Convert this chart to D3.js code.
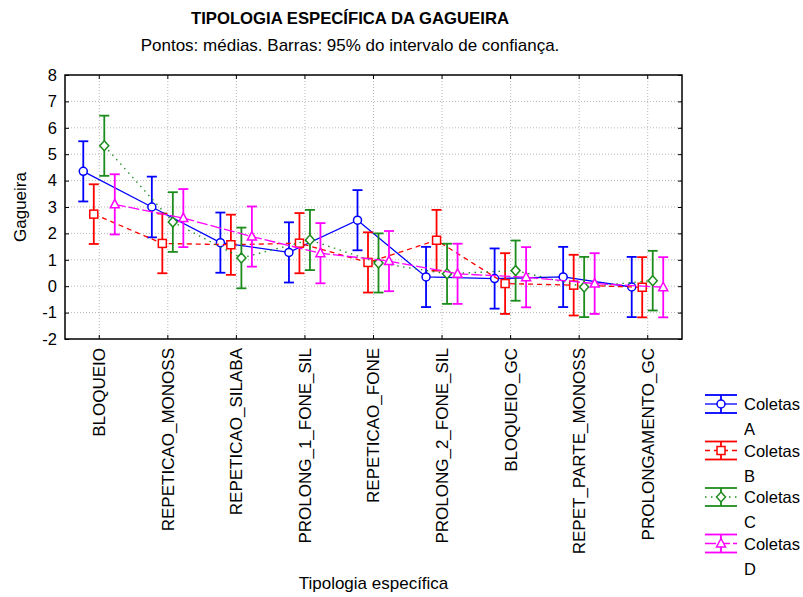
<!DOCTYPE html>
<html><head><meta charset="utf-8">
<script src="https://cdn.jsdelivr.net/npm/d3@7"></script>
<style>body{margin:0;background:#fff}text{font-family:"Liberation Sans",Arial,sans-serif;fill:#000}</style>
</head><body><svg id="c" width="803" height="597"></svg>
<script>
const categories = ["BLOQUEIO","REPETICAO_MONOSS","REPETICAO_SILABA","PROLONG_1_FONE_SIL","REPETICAO_FONE","PROLONG_2_FONE_SIL","BLOQUEIO_GC","REPET_PARTE_MONOSS","PROLONGAMENTO_GC"];
const seriesNames = ["Coletas A","Coletas B","Coletas C","Coletas D"];
const meansA = [4.35, 3.00, 1.65, 1.28, 2.50, 0.35, 0.29, 0.35, -0.03];
const ciA    = [1.14, 1.15, 1.14, 1.14, 1.14, 1.14, 1.14, 1.14, 1.14];
const meansB = [2.73, 1.62, 1.57, 1.63, 0.90, 1.74, 0.10, 0.04, -0.04];
const ciB    = [1.13, 1.13, 1.14, 1.14, 1.14, 1.15, 1.15, 1.15, 1.14];
const meansC = [5.32, 2.43, 1.07, 1.75, 0.88, 0.47, 0.59, -0.03, 0.21];
const ciC    = [1.14, 1.13, 1.15, 1.14, 1.12, 1.14, 1.14, 1.14, 1.13];
const meansD = [3.10, 2.58, 1.88, 1.25, 0.95, 0.47, 0.34, 0.10, -0.04];
const ciD    = [1.14, 1.10, 1.14, 1.14, 1.14, 1.14, 1.14, 1.15, 1.14];
const yTicks = [-2,-1,0,1,2,3,4,5,6,7,8];
const titleText = "TIPOLOGIA ESPECÍFICA DA GAGUEIRA";
const subtitleText = "Pontos: médias. Barras: 95% do intervalo de confiança.";
const xTitle = "Tipologia específica";
const yTitle = "Gagueira";

const series = [
  {name: seriesNames[0], means: meansA, ci: ciA, color: "#0000ff", dash: null, marker: "circle", off: -16},
  {name: seriesNames[1], means: meansB, ci: ciB, color: "#ff0000", dash: "5,4", marker: "square", off: -5.5},
  {name: seriesNames[2], means: meansC, ci: ciC, color: "#1c8c1c", dash: "1.5,4.5", marker: "diamond", off: 5},
  {name: seriesNames[3], means: meansD, ci: ciD, color: "#ff00ff", dash: "11,3", marker: "triangle", off: 15.5}
];

const svg = d3.select("#c");
const L = 65, R = 682, T = 75, B = 339;
const x = d3.scaleBand().domain(categories).range([L, R]).padding(0);
const y = d3.scaleLinear().domain([-2, 8]).range([B, T]);
const cx = c => x(c) + x.bandwidth() / 2;

// grid
const g = svg.append("g");
g.selectAll("line.gy").data(yTicks.slice(1, -1)).join("line")
  .attr("x1", L).attr("x2", R).attr("y1", d => y(d)).attr("y2", d => y(d))
  .attr("stroke", "#b8b8b8").attr("stroke-dasharray", "1,2");
g.selectAll("line.gx").data(categories).join("line")
  .attr("x1", d => cx(d)).attr("x2", d => cx(d)).attr("y1", T).attr("y2", B)
  .attr("stroke", "#b8b8b8").attr("stroke-dasharray", "1,2");

// axes
const ya = svg.append("g").attr("transform", `translate(${L},0)`)
  .call(d3.axisLeft(y).tickValues(yTicks).tickFormat(d => String(d)).tickSizeInner(-4).tickSizeOuter(0).tickPadding(8));
ya.select(".domain").remove();
ya.selectAll("text").style("font-size", "16.5px");
const yr = svg.append("g").attr("transform", `translate(${R},0)`)
  .call(d3.axisRight(y).tickValues(yTicks).tickSizeInner(-4).tickSizeOuter(0).tickFormat(""));
yr.select(".domain").remove();
const xb = svg.append("g").attr("transform", `translate(0,${B})`)
  .call(d3.axisBottom(x).tickSizeInner(-4).tickSizeOuter(0));
xb.select(".domain").remove();
xb.selectAll("text").attr("transform", "rotate(-90)").attr("text-anchor", "end")
  .attr("x", -9).attr("y", 0).attr("dy", "0.35em").style("font-size", "17px");
const xt = svg.append("g").attr("transform", `translate(0,${T})`)
  .call(d3.axisTop(x).tickSizeInner(-4).tickSizeOuter(0).tickFormat(""));
xt.select(".domain").remove();
svg.selectAll(".tick line").attr("stroke", "#000");

svg.append("rect").attr("x", L).attr("y", T).attr("width", R - L).attr("height", B - T)
  .attr("fill", "none").attr("stroke", "#000").attr("stroke-width", 1.5);

function marker(sel, type, color) {
  if (type === "circle") sel.append("circle").attr("r", 4);
  else if (type === "square") sel.append("rect").attr("x", -4).attr("y", -4).attr("width", 8).attr("height", 8);
  else if (type === "diamond") sel.append("path").attr("d", "M0,-5L4.5,0L0,5L-4.5,0Z");
  else sel.append("path").attr("d", "M0,-5L4.5,3.5L-4.5,3.5Z");
  sel.selectAll("*").attr("fill", "#fff").attr("stroke", color).attr("stroke-width", 1.5);
}

const line = d3.line().x(d => d.px).y(d => d.py);
series.forEach(s => {
  const pts = categories.map((c, i) => ({px: cx(c) + s.off, py: y(s.means[i]), lo: y(s.means[i] - s.ci[i]), hi: y(s.means[i] + s.ci[i])}));
  const sg = svg.append("g");
  sg.append("path").attr("d", line(pts)).attr("fill", "none").attr("stroke", s.color)
    .attr("stroke-width", 1.3).attr("stroke-dasharray", s.dash);
  pts.forEach(p => {
    sg.append("line").attr("x1", p.px).attr("x2", p.px).attr("y1", p.lo).attr("y2", p.hi).attr("stroke", s.color).attr("stroke-width", 1.8);
    sg.append("line").attr("x1", p.px - 5).attr("x2", p.px + 5).attr("y1", p.lo).attr("y2", p.lo).attr("stroke", s.color).attr("stroke-width", 1.8);
    sg.append("line").attr("x1", p.px - 5).attr("x2", p.px + 5).attr("y1", p.hi).attr("y2", p.hi).attr("stroke", s.color).attr("stroke-width", 1.8);
  });
  pts.forEach(p => marker(sg.append("g").attr("transform", `translate(${p.px},${p.py})`), s.marker, s.color));
});

// titles
svg.append("text").attr("x", 350).attr("y", 24).attr("text-anchor", "middle")
  .style("font-size", "16.7px").style("font-weight", "bold").text(titleText);
svg.append("text").attr("x", 350).attr("y", 51).attr("text-anchor", "middle")
  .style("font-size", "17px").text(subtitleText);
svg.append("text").attr("x", (L + R) / 2).attr("y", 589).attr("text-anchor", "middle")
  .style("font-size", "17px").text(xTitle);
svg.append("text").attr("transform", `translate(26,207) rotate(-90)`).attr("text-anchor", "middle")
  .style("font-size", "17px").text(yTitle);

// legend
series.forEach((s, i) => {
  const ly = 404 + i * 46.5;
  const lg = svg.append("g");
  lg.append("line").attr("x1", 705).attr("x2", 737).attr("y1", ly).attr("y2", ly)
    .attr("stroke", s.color).attr("stroke-width", 1.3).attr("stroke-dasharray", s.dash);
  lg.append("line").attr("x1", 721).attr("x2", 721).attr("y1", ly - 9).attr("y2", ly + 9).attr("stroke", s.color).attr("stroke-width", 1.8);
  lg.append("line").attr("x1", 705).attr("x2", 737).attr("y1", ly - 9).attr("y2", ly - 9).attr("stroke", s.color).attr("stroke-width", 1.8);
  lg.append("line").attr("x1", 705).attr("x2", 737).attr("y1", ly + 9).attr("y2", ly + 9).attr("stroke", s.color).attr("stroke-width", 1.8);
  marker(lg.append("g").attr("transform", `translate(721,${ly})`), s.marker, s.color);
  const parts = s.name.split(" ");
  lg.append("text").attr("x", 744).attr("y", ly + 6).style("font-size", "16.5px").text(parts[0]);
  lg.append("text").attr("x", 744).attr("y", ly + 31).style("font-size", "16.5px").text(parts[1]);
});
</script></body></html>
